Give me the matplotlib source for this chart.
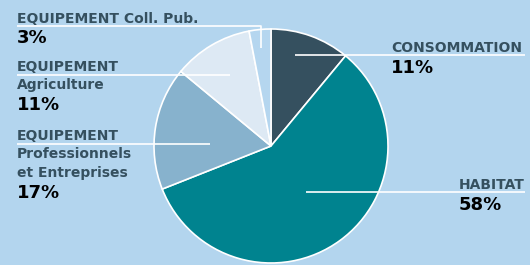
import matplotlib.pyplot as plt

# data
labels = ["CONSOMMATION", "HABITAT", "EQUIPEMENT\nProfessionnels\net Entreprises",
          "EQUIPEMENT\nAgriculture", "EQUIPEMENT Coll. Pub."]
shares = [11, 58, 17, 11, 3]
pct_labels = ["11%", "58%", "17%", "11%", "3%"]
colors = ["#35505f", "#00838f", "#87b2cd", "#dde9f4", "#b5d6ef"]

bg = "#b3d5ee"
dark = "#35505f"
H = 265

fig = plt.figure(figsize=(5.3, 2.65), dpi=100)
fig.patch.set_facecolor(bg)
ax = fig.add_axes([0, 0, 1, 1])
ax.set_facecolor(bg)

# pie (pixel coordinates, y flipped)
cx, cy, r = 271, H - 146, 117
ax.pie(shares, colors=colors, startangle=90, counterclock=False,
       center=(cx, cy), radius=r, frame=True,
       wedgeprops=dict(edgecolor="white", linewidth=1.2))
ax.set_xlim(0, 530)
ax.set_ylim(0, H)
ax.set_aspect("equal")
ax.axis("off")

# leader lines (image px)
leaders = [
    [(295, 55), (525, 55)],
    [(306, 192), (525, 192)],
    [(17, 144), (210, 144)],
    [(17, 75), (230, 75)],
    [(17, 26), (261, 26), (261, 48)],
]
for pts in leaders:
    xs = [p[0] for p in pts]
    ys = [H - p[1] for p in pts]
    ax.plot(xs, ys, color="white", lw=1.2, solid_capstyle="butt")

font = "DejaVu Sans"
# label blocks: (x, baseline of first line)
label_pos = [(391, 52), (459, 189), (17, 140), (17, 71), (17, 23)]
pct_pos = [(391, 73), (459, 210), (17, 198), (17, 110), (17, 43)]

for lab, (x, y), pct, (px, py) in zip(labels, label_pos, pct_labels, pct_pos):
    for i, line in enumerate(lab.split("\n")):
        ax.text(x, H - (y + i * 18.5), line, ha="left", va="baseline", fontsize=10,
                fontweight="bold", color=dark, family=font)
    ax.text(px, H - py, pct, ha="left", va="baseline", fontsize=13,
            fontweight="bold", color="black", family=font)

fig.savefig("out.png", dpi=100, facecolor=bg)
